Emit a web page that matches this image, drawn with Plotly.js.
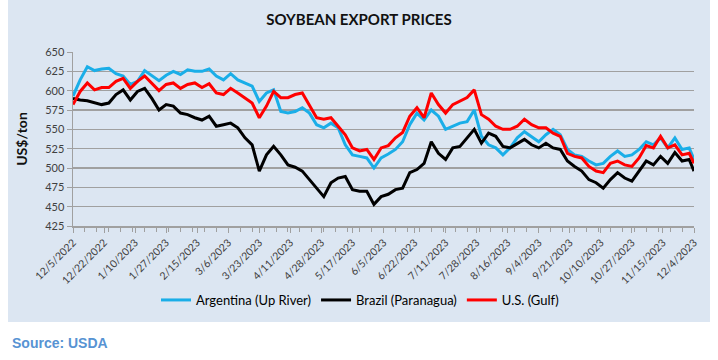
<!DOCTYPE html>
<html>
<head>
<meta charset="utf-8">
<script src="https://cdn.plot.ly/plotly-3.0.1.min.js"></script>
<style>
html,body{margin:0;padding:0;background:#fff;}
#chart{width:718px;height:360px;}
</style>
</head>
<body>
<div id="chart"></div>
<script>
const dates = ['2022-12-05','2022-12-08','2022-12-13','2022-12-16','2022-12-21','2022-12-26','2022-12-29',
'2023-01-03','2023-01-06','2023-01-11','2023-01-16','2023-01-19','2023-01-24','2023-01-27',
'2023-02-01','2023-02-06','2023-02-09','2023-02-14','2023-02-17','2023-02-22','2023-02-27',
'2023-03-02','2023-03-07','2023-03-10','2023-03-15','2023-03-20','2023-03-23','2023-03-28','2023-03-31',
'2023-04-05','2023-04-10','2023-04-13','2023-04-18','2023-04-21','2023-04-26',
'2023-05-01','2023-05-04','2023-05-09','2023-05-12','2023-05-17','2023-05-22','2023-05-25','2023-05-30',
'2023-06-02','2023-06-07','2023-06-12','2023-06-15','2023-06-20','2023-06-23','2023-06-28',
'2023-07-03','2023-07-06','2023-07-11','2023-07-14','2023-07-19','2023-07-24','2023-07-27',
'2023-08-01','2023-08-04','2023-08-09','2023-08-14','2023-08-17','2023-08-22','2023-08-25','2023-08-30',
'2023-09-04','2023-09-07','2023-09-12','2023-09-15','2023-09-20','2023-09-25','2023-09-28',
'2023-10-03','2023-10-06','2023-10-11','2023-10-16','2023-10-19','2023-10-24','2023-10-27',
'2023-11-01','2023-11-06','2023-11-09','2023-11-14','2023-11-17','2023-11-22','2023-11-27','2023-11-30',
'2023-12-04'];

const argentina = [593,614,631,626,628,629,622,
619,608,612,626,619,613,620,
625,621,627,625,625,628,619,
614,622,614,610,606,586,597,601,
573,571,573,578,571,556,
552,558,552,530,517,515,513,500,
513,518,524,534,556,571,562,
575,567,550,554,558,560,575,
541,530,526,517,526,539,547,541,
534,543,550,543,524,517,515,
509,504,506,515,522,515,517,
524,534,530,539,526,539,524,526,
511];

const brazil = [590,588,587,584,582,584,595,
601,588,599,603,590,575,582,
580,571,569,565,562,567,554,
556,558,552,539,530,496,517,528,
517,504,501,496,485,474,
463,481,487,489,472,470,470,453,
463,466,472,474,494,498,506,
534,519,511,526,528,539,550,
532,545,541,528,526,532,537,530,
526,532,526,524,509,502,496,
485,481,474,485,494,487,483,
496,509,504,515,506,520,509,511,
496];

const usGulf = [582,599,610,601,604,604,612,
616,603,612,619,610,600,608,
610,603,608,610,604,609,597,
595,603,597,591,584,565,580,599,
591,591,595,597,580,565,
563,565,554,543,526,522,524,511,
526,529,539,546,567,578,565,
597,582,571,582,586,591,601,
569,563,554,550,550,554,563,556,
552,552,545,541,519,515,513,
502,496,494,506,509,504,502,
513,529,526,541,526,530,517,519,
506];

const tickDates = ['2022-12-05','2022-12-22','2023-01-10','2023-01-27','2023-02-15','2023-03-06','2023-03-23',
'2023-04-11','2023-04-28','2023-05-17','2023-06-05','2023-06-22','2023-07-11','2023-07-28','2023-08-16',
'2023-09-04','2023-09-21','2023-10-10','2023-10-27','2023-11-15','2023-12-04'];
const tickLabels = ['12/5/2022','12/22/2022','1/10/2023','1/27/2023','2/15/2023','3/6/2023','3/23/2023',
'4/11/2023','4/28/2023','5/17/2023','6/5/2023','6/22/2023','7/11/2023','7/28/2023','8/16/2023',
'9/4/2023','9/21/2023','10/10/2023','10/27/2023','11/15/2023','12/4/2023'];

const seriesNames = ['Argentina (Up River)','Brazil (Paranagua)','U.S. (Gulf)'];
const seriesColors = ['#1aaee8','#000000','#ff0000'];
const seriesValues = [argentina, brazil, usGulf];

const traces = seriesValues.map((vals,i)=>({
  type:'scatter', mode:'lines', x:dates, y:vals, name:seriesNames[i],
  line:{color:seriesColors[i], width:3}
}));

const L=73, R=694, T=52, B=226, W=R-L, H=B-T;
const px = v => (v-L)/W;
const py = v => (B-v)/H;

const layout = {
  width:718, height:360,
  margin:{l:L, r:718-R, t:T, b:360-B, autoexpand:false},
  paper_bgcolor:'#ffffff',
  plot_bgcolor:'#ffffff',
  font:{family:'Lato, "Open Sans", sans-serif', color:'#404040'},
  title:{text:'SOYBEAN EXPORT PRICES', x:0.5, xref:'container', y:1-20/360, yref:'container', yanchor:'middle',
    font:{family:'Lato, sans-serif', size:15, color:'#111111', weight:'bold'}},
  xaxis:{
    type:'date',
    range:['2022-12-05','2023-12-04'],
    rangebreaks:[{bounds:['sat','mon']}],
    tickmode:'array', tickvals:tickDates, ticktext:tickLabels,
    tickangle:-45, tickfont:{size:10.5, color:'#404040'},
    ticks:'outside', ticklen:5, tickcolor:'#a0a0a0',
    showline:true, linecolor:'#a0a0a0', linewidth:1.5,
    showgrid:false, zeroline:false,
    minor:{ticks:'outside', ticklen:4, tickcolor:'#a0a0a0', dtick:604800000, tick0:'2022-12-05', showgrid:false}
  },
  yaxis:{
    range:[425,650], dtick:25, tick0:425,
    tickfont:{size:11, color:'#404040'},
    ticks:'outside', ticklen:5, tickcolor:'#a0a0a0',
    showline:true, linecolor:'#a0a0a0', linewidth:1.5,
    showgrid:true, gridcolor:'#a0a0a0', gridwidth:1.4,
    zeroline:false,
    title:{text:'US$/ton', standoff:14, font:{family:'Lato, sans-serif', size:14, color:'#111111', weight:'bold'}}
  },
  showlegend:true,
  legend:{orientation:'h', xref:'paper', x:px(360), xanchor:'center', y:py(300), yanchor:'middle',
    font:{family:'Lato, sans-serif', size:13, color:'#000000'}, bgcolor:'rgba(0,0,0,0)',
    itemwidth:30, tracegroupgap:0},
  shapes:[{type:'rect', xref:'paper', yref:'paper', x0:px(8), x1:px(710), y0:py(322), y1:py(0),
    fillcolor:'#dce6f2', line:{width:0}, layer:'below'}],
  annotations:[{text:'<b>Source: USDA</b>', xref:'paper', yref:'paper', x:px(10), y:py(343),
    xanchor:'left', yanchor:'middle', showarrow:false,
    font:{family:'"Liberation Sans", Arial, sans-serif', size:14, color:'#5793d3'}}]
};

Plotly.newPlot('chart', traces, layout, {displayModeBar:false, staticPlot:true});
</script>
</body>
</html>
